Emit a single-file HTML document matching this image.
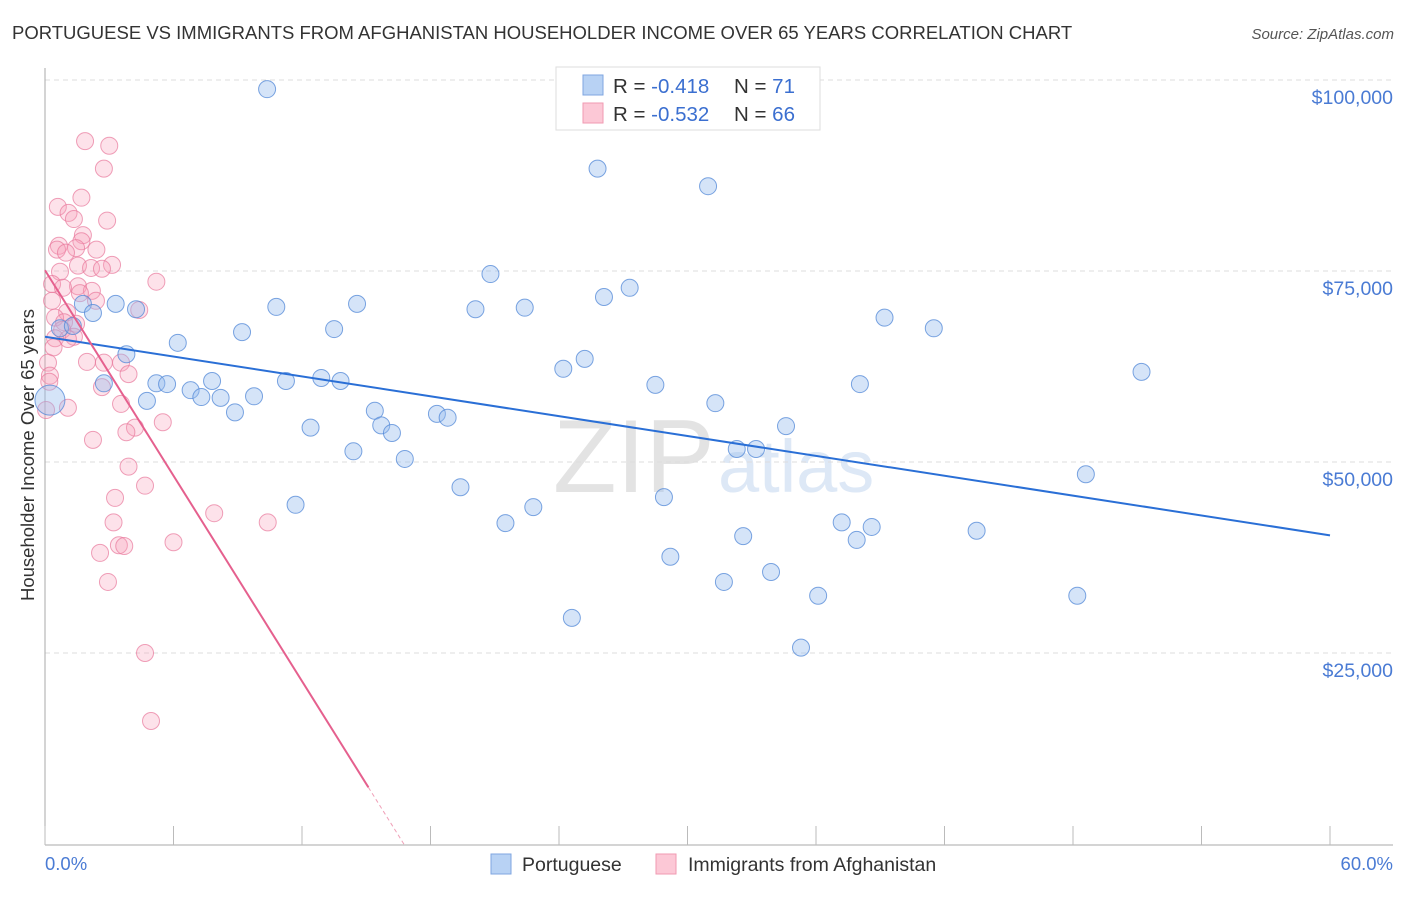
<!DOCTYPE html>
<html><head><meta charset="utf-8"><style>
body{margin:0;background:#fff;font-family:"Liberation Sans",sans-serif}
svg text{font-family:"Liberation Sans",sans-serif}
</style></head><body>
<svg id="chart" width="1406" height="892" xmlns="http://www.w3.org/2000/svg">
<text x="12" y="39" font-size="18.5" fill="#333">PORTUGUESE VS IMMIGRANTS FROM AFGHANISTAN HOUSEHOLDER INCOME OVER 65 YEARS CORRELATION CHART</text>
<text x="1394" y="39" font-size="15" fill="#555" font-style="italic" text-anchor="end">Source: ZipAtlas.com</text>
<g>
<text x="553" y="492" font-size="104" fill="#e3e3e3" font-family="Liberation Serif">ZIP</text>
<text x="718" y="492" font-size="74" fill="#dde8f6">atlas</text>
</g>
<g id="grid"></g>
<g id="axes"></g>
<g id="pts"></g>
<g id="trend"></g>
<text transform="translate(34,455) rotate(-90)" font-size="18.5" fill="#333" text-anchor="middle">Householder Income Over 65 years</text>
<text x="45" y="870" font-size="18.5" fill="#4a7bd4">0.0%</text>
<text x="1393" y="870" font-size="18.5" fill="#4a7bd4" text-anchor="end">60.0%</text>
<g>
<rect x="491" y="854" width="20" height="20" fill="#b8d2f4" stroke="#7fa6e0"/>
<text x="522" y="871" font-size="19.5" fill="#333">Portuguese</text>
<rect x="656" y="854" width="20" height="20" fill="#fcc8d6" stroke="#f09ab2"/>
<text x="688" y="871" font-size="19.5" fill="#333">Immigrants from Afghanistan</text>
</g>
<g>
<rect x="556" y="67" width="264" height="63" fill="#fff" stroke="#ddd"/>
<rect x="583" y="75" width="20" height="20" fill="#b8d2f4" stroke="#7fa6e0"/>
<text x="613" y="93" font-size="20.5" fill="#333">R = <tspan fill="#3b6fd0">-0.418</tspan></text>
<text x="734" y="93" font-size="20.5" fill="#333">N = <tspan fill="#3b6fd0"> 71</tspan></text>
<rect x="583" y="103" width="20" height="20" fill="#fcc8d6" stroke="#f09ab2"/>
<text x="613" y="121" font-size="20.5" fill="#333">R = <tspan fill="#3b6fd0">-0.532</tspan></text>
<text x="734" y="121" font-size="20.5" fill="#333">N = <tspan fill="#3b6fd0">66</tspan></text>
</g>
</svg>
<script>
const yTicks=[25000,50000,75000,100000];
const yTickLabels=["$25,000","$50,000","$75,000","$100,000"];
const xTicks=[0,6,12,18,24,30,36,42,48,54,60];
const blueX=[10.37,25.8,30.96,20.8,27.3,26.1,14.57,10.8,20.1,22.4,3.3,1.77,4.25,2.24,39.2,41.5,13.5,9.2,0.7,1.3,6.2,3.8,25.2,24.2,51.2,2.75,5.2,5.7,7.8,11.25,12.9,13.8,28.5,38.05,6.8,7.3,8.2,9.76,4.76,8.87,15.4,18.3,18.8,31.3,15.7,16.2,34.6,12.4,32.3,33.2,14.4,16.8,48.6,19.4,28.9,11.7,22.8,21.5,37.2,38.6,43.5,32.6,37.9,29.2,31.7,33.9,36.1,48.2,24.6,35.3,0.23];
const blueY=[98.8,88.4,86.1,74.6,72.8,71.6,70.7,70.3,70.0,70.2,70.7,70.7,70.0,69.5,68.9,67.5,67.4,67.0,67.5,67.8,65.6,64.1,63.5,62.2,61.8,60.3,60.3,60.2,60.6,60.6,61.0,60.6,60.1,60.2,59.4,58.5,58.4,58.6,58.0,56.5,56.7,56.3,55.8,57.7,54.8,53.8,54.7,54.5,51.7,51.7,51.4,50.4,48.4,46.7,45.4,44.4,44.1,42.0,42.1,41.5,41.0,40.3,39.8,37.6,34.3,35.6,32.5,32.5,29.6,25.7,58.1];
const pinkX=[1.87,3.0,2.75,1.7,0.6,1.1,2.9,1.35,1.77,1.7,0.65,0.56,1.45,0.98,2.4,1.54,2.15,3.13,2.66,0.7,5.2,0.33,1.54,0.84,2.19,1.63,2.38,0.33,4.4,1.03,0.47,0.89,1.45,0.8,1.35,0.47,1.07,1.96,3.55,0.14,2.75,3.9,0.23,2.66,3.55,1.07,0.05,5.5,4.2,3.8,2.24,3.9,4.67,3.27,7.9,3.2,10.4,6.0,3.45,3.7,2.57,2.94,4.67,4.95,0.2,0.4];
const pinkY=[92.0,91.4,88.4,84.6,83.4,82.6,81.6,81.8,79.7,78.9,78.3,77.8,78.0,77.4,77.8,75.7,75.4,75.8,75.3,74.9,73.6,73.3,73.0,72.8,72.4,72.1,71.1,71.1,69.9,69.6,68.9,68.3,68.1,67.3,66.4,66.2,66.1,63.1,63.0,63.0,63.0,61.5,61.3,59.8,57.6,57.1,56.8,55.2,54.5,53.9,52.9,49.4,46.9,45.3,43.3,42.1,42.1,39.5,39.1,39.0,38.1,34.3,25.0,16.1,60.5,65.0];
const blueTrend=[66.4,40.4];
const pinkTrend=[75.1,-0.2];
const pinkSolidEnd=15.1;
const NS="http://www.w3.org/2000/svg";
const X=v=>45+v/60*1285;
const Y=v=>844-v/25*191;
function mk(t,a,p){const e=document.createElementNS(NS,t);for(const k in a)e.setAttribute(k,a[k]);p.appendChild(e);return e;}
const grid=document.getElementById('grid'),axes=document.getElementById('axes'),pts=document.getElementById('pts'),tr=document.getElementById('trend');
yTicks.forEach((t,i)=>{
 const l=mk('line',{x1:45,x2:1393,y1:Y(t/1000),y2:Y(t/1000),stroke:'#ddd','stroke-dasharray':'5,4'},grid);
 
 
 const tx=mk('text',{x:1393,y:Y(t/1000)+24,'font-size':19.5,fill:'#4a7bd4','text-anchor':'end'},grid);
 tx.textContent=yTickLabels[i];
 
 
});
const ax=mk('line',{x1:45,x2:1393,y1:845,y2:845,stroke:'#aaa'},axes);


const ay=mk('line',{x1:45,x2:45,y1:68,y2:845,stroke:'#aaa'},axes);


xTicks.forEach(t=>{
 const l=mk('line',{x1:X(t),x2:X(t),y1:826,y2:845,stroke:'#bbb'},axes);
 
 
});
pinkX.forEach((x,i)=>{
 const c=mk('circle',{cx:X(x),cy:Y(pinkY[i]),r:8.5,fill:'rgba(247,160,185,0.3)',stroke:'rgba(232,120,155,0.7)','stroke-width':1},pts);
 
 
});
blueX.forEach((x,i)=>{
 const big=i===blueX.length-1;
 const c=mk('circle',{cx:X(x),cy:Y(blueY[i]),r:big?15:8.5,fill:'rgba(150,188,238,0.4)',stroke:'rgba(80,135,215,0.75)','stroke-width':1},pts);
 
 
});
const bl=mk('line',{x1:X(0),y1:Y(blueTrend[0]),x2:X(60),y2:Y(blueTrend[1]),stroke:'#2a6fd6','stroke-width':2},tr);


const pf=v=>pinkTrend[0]+(pinkTrend[1]-pinkTrend[0])*v/16.8;
const pl=mk('line',{x1:X(0),y1:Y(pf(0)),x2:X(pinkSolidEnd),y2:Y(pf(pinkSolidEnd)),stroke:'#e5608e','stroke-width':2},tr);


const pd=mk('line',{x1:X(pinkSolidEnd),y1:Y(pf(pinkSolidEnd)),x2:X(16.8),y2:Y(pf(16.8)),stroke:'#f0a0b8','stroke-width':1,'stroke-dasharray':'4,3'},tr);


</script>
</body></html>
